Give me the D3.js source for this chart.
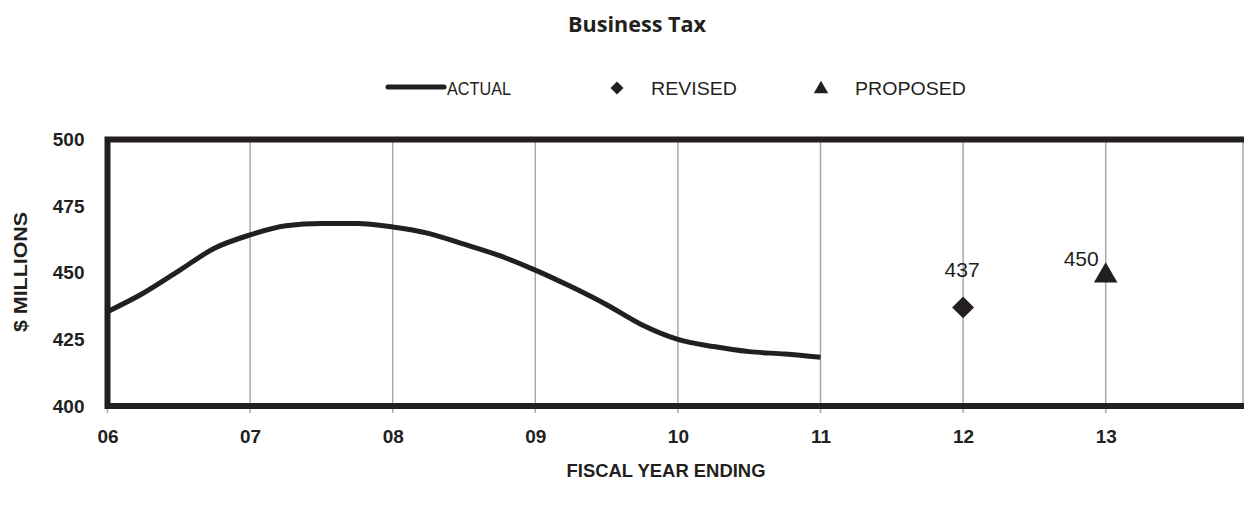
<!DOCTYPE html>
<html>
<head>
<meta charset="utf-8">
<script src="https://cdn.jsdelivr.net/npm/d3@7"></script>
<style>
  html, body { margin: 0; padding: 0; background: #fff; }
  svg { display: block; }
</style>
</head>
<body>
<svg id="chart" width="1244" height="506"></svg>
<script>
// Fiscal years shown on the axis (year ending), and the tick labels for them
const fiscalYears = [6, 7, 8, 9, 10, 11, 12, 13];
const yearLabels = ["06", "07", "08", "09", "10", "11", "12", "13"];
const yTicks = [400, 425, 450, 475, 500];

// Actual collections, quarterly ($ millions)
const actualYears = [6, 6.25, 6.5, 6.75, 7, 7.25, 7.5, 7.75, 8, 8.25, 8.5, 8.75,
                     9, 9.25, 9.5, 9.75, 10, 10.25, 10.5, 10.75, 11];
const actualValues = [435.4, 442.3, 450.7, 459.2, 464.2, 467.6, 468.5, 468.5, 467.2, 464.8,
                      460.7, 456.4, 451.0, 444.8, 438.0, 430.4, 425.0, 422.3, 420.4, 419.5, 418.3];

// Revised and proposed estimates
const revisedYears = [12];
const revisedValues = [437];
const proposedYears = [13];
const proposedValues = [450];

const ink = "#231f20";
const gridGrey = "#a7a9ac";
const sans = "'Liberation Sans', Arial, sans-serif";

const svg = d3.select("#chart");
const W = 1244;
const plot = { left: 107.5, top: 139.5, bottom: 406, right: W - 1 };

const x = d3.scaleLinear().domain([6, 14]).range([plot.left, plot.left + 8 * 142.6]);
const y = d3.scaleLinear().domain([400, 500]).range([plot.bottom, plot.top]);

// Title
svg.append("text")
  .attr("x", 637).attr("y", 32)
  .attr("text-anchor", "middle")
  .attr("font-family", "'Open Sans', sans-serif")
  .attr("font-weight", "bold")
  .attr("font-size", 21)
  .attr("textLength", 138).attr("lengthAdjust", "spacingAndGlyphs")
  .attr("fill", ink)
  .text("Business Tax");

// Vertical grid lines with small ticks below the frame
svg.append("g").selectAll("line")
  .data(fiscalYears)
  .join("line")
  .attr("x1", d => x(d)).attr("x2", d => x(d))
  .attr("y1", plot.top).attr("y2", plot.bottom + 7)
  .attr("stroke", gridGrey)
  .attr("stroke-width", 1.5);
// Right edge of plot area
svg.append("line")
  .attr("x1", plot.right).attr("x2", plot.right)
  .attr("y1", plot.top).attr("y2", plot.bottom)
  .attr("stroke", gridGrey).attr("stroke-width", 1.5);

// Frame: top, bottom and left borders
svg.append("path")
  .attr("d", `M${W},${plot.top} H${plot.left} V${plot.bottom} H${W}`)
  .attr("fill", "none")
  .attr("stroke", ink)
  .attr("stroke-width", 6);

// X axis labels
const xAxis = d3.axisBottom(x)
  .tickValues(fiscalYears)
  .tickFormat((d, i) => yearLabels[i])
  .tickSize(0)
  .tickPadding(24);
const gx = svg.append("g").attr("transform", `translate(0,${plot.bottom})`).call(xAxis);
gx.select(".domain").remove();
gx.selectAll("text")
  .attr("font-family", sans)
  .attr("font-weight", "bold")
  .attr("font-size", 19)
  .attr("fill", ink);

// Y axis labels
const yAxis = d3.axisLeft(y).tickValues(yTicks).tickSize(0).tickPadding(23);
const gy = svg.append("g").attr("transform", `translate(${plot.left},0)`).call(yAxis);
gy.select(".domain").remove();
gy.selectAll("text")
  .attr("font-family", sans)
  .attr("font-weight", "bold")
  .attr("font-size", 19)
  .attr("fill", ink);

// Axis titles
svg.append("text")
  .attr("transform", "translate(27,272) rotate(-90)")
  .attr("text-anchor", "middle")
  .attr("font-family", sans)
  .attr("font-weight", "bold")
  .attr("font-size", 19)
  .attr("textLength", 120).attr("lengthAdjust", "spacingAndGlyphs")
  .attr("fill", ink)
  .text("$ MILLIONS");

svg.append("text")
  .attr("x", 666).attr("y", 477)
  .attr("text-anchor", "middle")
  .attr("font-family", sans)
  .attr("font-weight", "bold")
  .attr("font-size", 18)
  .attr("textLength", 199).attr("lengthAdjust", "spacingAndGlyphs")
  .attr("fill", ink)
  .text("FISCAL YEAR ENDING");

// Actual line
const line = d3.line()
  .x((d, i) => x(actualYears[i]))
  .y(d => y(d))
  .curve(d3.curveMonotoneX);
svg.append("path")
  .datum(actualValues)
  .attr("d", line)
  .attr("fill", "none")
  .attr("stroke", ink)
  .attr("stroke-width", 5)
  .attr("stroke-linejoin", "round");

// Revised marker and label
const diamond = d3.symbol().type(d3.symbolSquare).size(240);
svg.selectAll(".revised")
  .data(revisedValues)
  .join("path")
  .attr("class", "revised")
  .attr("d", diamond)
  .attr("transform", (d, i) => `translate(${x(revisedYears[i])},${y(d)}) rotate(45)`)
  .attr("fill", ink);
svg.selectAll(".revised-label")
  .data(revisedValues)
  .join("text")
  .attr("class", "revised-label")
  .attr("x", (d, i) => x(revisedYears[i]) - 1)
  .attr("y", d => y(d) - 30)
  .attr("text-anchor", "middle")
  .attr("font-family", sans)
  .attr("font-size", 21)
  .attr("fill", ink)
  .text(d => d);

// Proposed marker and label
const tri = d3.symbol().type(d3.symbolTriangle).size(240);
svg.selectAll(".proposed")
  .data(proposedValues)
  .join("path")
  .attr("class", "proposed")
  .attr("d", tri)
  .attr("transform", (d, i) => `translate(${x(proposedYears[i])},${y(d) + 3})`)
  .attr("fill", ink);
svg.selectAll(".proposed-label")
  .data(proposedValues)
  .join("text")
  .attr("class", "proposed-label")
  .attr("x", (d, i) => x(proposedYears[i]) - 7)
  .attr("y", d => y(d) - 7)
  .attr("text-anchor", "end")
  .attr("font-family", sans)
  .attr("font-size", 21)
  .attr("fill", ink)
  .text(d => d);

// Legend
const legend = svg.append("g")
  .attr("font-family", sans)
  .attr("font-size", 19)
  .attr("fill", ink);
legend.append("line")
  .attr("x1", 388).attr("x2", 444).attr("y1", 87).attr("y2", 87)
  .attr("stroke", ink).attr("stroke-width", 5).attr("stroke-linecap", "round");
legend.append("text").attr("x", 447).attr("y", 95)
  .attr("textLength", 64).attr("lengthAdjust", "spacingAndGlyphs").text("ACTUAL");
legend.append("path")
  .attr("d", d3.symbol().type(d3.symbolSquare).size(84))
  .attr("transform", "translate(617,88) rotate(45)");
legend.append("text").attr("x", 651).attr("y", 95)
  .attr("textLength", 86).attr("lengthAdjust", "spacingAndGlyphs").text("REVISED");
legend.append("path")
  .attr("d", d3.symbol().type(d3.symbolTriangle).size(90))
  .attr("transform", "translate(821,89)");
legend.append("text").attr("x", 855).attr("y", 95)
  .attr("textLength", 111).attr("lengthAdjust", "spacingAndGlyphs").text("PROPOSED");
</script>
</body>
</html>
